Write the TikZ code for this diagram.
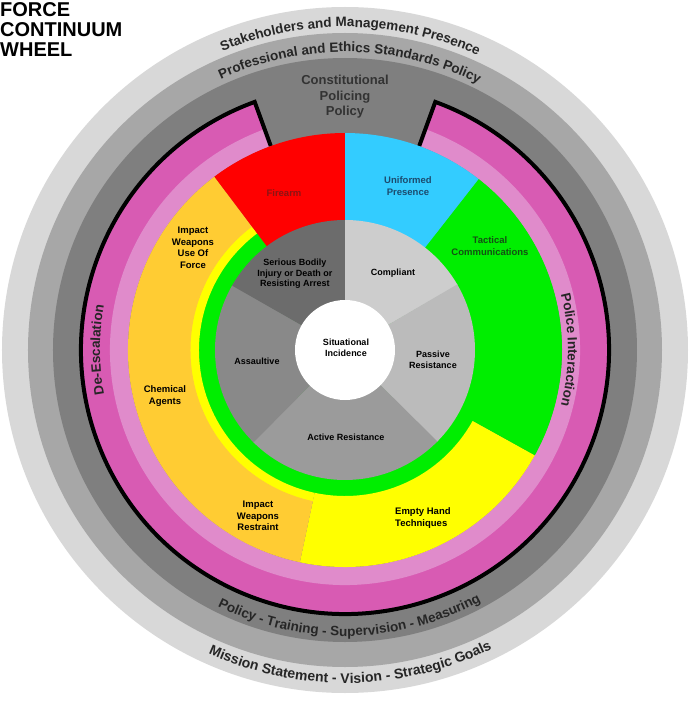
\documentclass[tikz,border=0pt]{standalone}
\usepackage{fontspec}
\setmainfont{Liberation Sans}
\usetikzlibrary{decorations.text}

\definecolor{bandlight}{HTML}{D8D8D8}
\definecolor{bandmid}{HTML}{A7A7A7}
\definecolor{banddark}{HTML}{7F7F7F}
\definecolor{ringmagenta}{HTML}{D85BB3}
\definecolor{ringpink}{HTML}{E08BCB}
\definecolor{wheelred}{HTML}{FF0000}
\definecolor{wheelblue}{HTML}{33CCFF}
\definecolor{wheelgreen}{HTML}{00EE00}
\definecolor{wheelyellow}{HTML}{FFFF00}
\definecolor{wheelorange}{HTML}{FFCC33}
\definecolor{sbi}{HTML}{6C6C6C}
\definecolor{assault}{HTML}{898989}
\definecolor{active}{HTML}{9B9B9B}
\definecolor{passive}{HTML}{BBBBBB}
\definecolor{comply}{HTML}{CDCDCD}
% colour, start angle, end angle, inner radius, outer radius
\newcommand{\ringpart}[5]{%
  \fill[#1] (#2:#4) arc[start angle=#2, end angle=#3, radius=#4]
    -- (#3:#5) arc[start angle=#3, end angle=#2, radius=#5] -- cycle;}

\begin{document}
\begin{tikzpicture}[x=1pt, y=1pt,
    title/.style={font=\fontsize{20}{20}\selectfont\bfseries, align=left, inner sep=0pt},
    label/.style={font=\fontsize{9}{10.5}\selectfont\bfseries, align=center, inner sep=0pt},
    outerlabel/.style={font=\fontsize{9.5}{11.5}\selectfont\bfseries, align=center, inner sep=0pt},
    policy/.style={font=\fontsize{13}{15.5}\selectfont\bfseries, align=center, inner sep=0pt, text=black!80},
    curved/.style={decorate, decoration={text along path, text align=center, text color=black!85}}
  ]
  \useasboundingbox (-345,-360) rectangle (344,350);

  % outer bands
  \fill[bandlight] (0,0) circle[radius=343];
  \fill[bandmid] (0,0) circle[radius=317];
  \fill[banddark] (0,0) circle[radius=292];

  % pink rings with the notch at the top
  \ringpart{ringmagenta}{110}{430}{234}{264}
  \ringpart{ringpink}{110}{430}{217}{235}
  \draw[line width=4, line join=miter] (110:217) -- (110:264)
    arc[start angle=110, end angle=430, radius=264] -- (70:217);

  % response ring
  \fill[wheelgreen] (0,0) circle[radius=147];
  \ringpart{wheelyellow}{127}{258}{146}{155}
  \ringpart{wheelyellow}{258}{331}{146}{217}
  \ringpart{wheelorange}{127}{258}{154.5}{217}
  \ringpart{wheelgreen}{331}{412}{140}{217}
  \ringpart{wheelblue}{52}{90.3}{125}{217}
  \ringpart{wheelred}{90}{127}{125}{217}

  % subject behaviour
  \ringpart{comply}{30}{90}{40}{130}
  \ringpart{passive}{-45}{30.3}{40}{130}
  \ringpart{active}{225}{315.3}{40}{130}
  \ringpart{assault}{150}{225.3}{40}{130}
  \ringpart{sbi}{90}{150.3}{40}{130}
  \fill[white] (0,0) circle[radius=50];

  % texts round the wheel
  \path[curved, decoration={text={|\fontsize{13.5}{14}\selectfont\bfseries|Stakeholders and Management Presence}}]
    (159:323) arc[start angle=159, end angle=19, radius=323];
  \path[curved, decoration={text={|\fontsize{13.5}{14}\selectfont\bfseries|Professional and Ethics Standards Policy}}]
    (159:298) arc[start angle=159, end angle=19, radius=298];
  \path[curved, decoration={text={|\fontsize{13.5}{14}\selectfont\bfseries|Policy - Training - Supervision - Measuring}}]
    (201:286) arc[start angle=201, end angle=341, radius=286];
  \path[curved, decoration={text={|\fontsize{14}{14}\selectfont\bfseries|Mission Statement - Vision - Strategic Goals}}]
    (201:333) arc[start angle=201, end angle=341, radius=333];
  \path[curved, decoration={text={|\fontsize{13.5}{14}\selectfont\bfseries|De-Escalation}}]
    (215:245) arc[start angle=215, end angle=145, radius=245];
  \path[curved, decoration={text={|\fontsize{13.5}{14}\selectfont\bfseries|Police Interaction}}]
    (35:223) arc[start angle=35, end angle=-35, radius=223];

  \node[title, anchor=north west] (title) at (-345,348) {FORCE\\CONTINUUM\\WHEEL};
  \node[policy] (constitution) at (0,253) {Constitutional\\Policing\\Policy};

  \node[label] (incidence) at (1,2) {Situational\\Incidence};
  \node[label] (serious) at (-50,76) {Serious Bodily\\Injury or Death or\\Resisting Arrest};
  \node[label] (compliant) at (48,77) {Compliant};
  \node[label] (passiveres) at (88,-10) {Passive\\Resistance};
  \node[label] (assaultive) at (-88,-11) {Assaultive};
  \node[label] (activeres) at (1,-87) {Active Resistance};

  \node[outerlabel, text={rgb,255:red,140;green,20;blue,20}] (firearm) at (-61,157) {Firearm};
  \node[outerlabel, text={rgb,255:red,28;green,75;blue,110}] (presence) at (63,164) {Uniformed\\Presence};
  \node[outerlabel, text={rgb,255:red,20;green,80;blue,20}] (tactical) at (145,104) {Tactical\\Communications};
  \node[outerlabel] (impactuse) at (-152,102) {Impact\\Weapons\\Use Of\\Force};
  \node[outerlabel] (chemical) at (-180,-46) {Chemical\\Agents};
  \node[outerlabel] (impactrestraint) at (-87,-166) {Impact\\Weapons\\Restraint};
  \node[outerlabel, align=left, anchor=west] (emptyhand) at (50,-168) {Empty Hand\\Techniques};
\end{tikzpicture}
\end{document}
